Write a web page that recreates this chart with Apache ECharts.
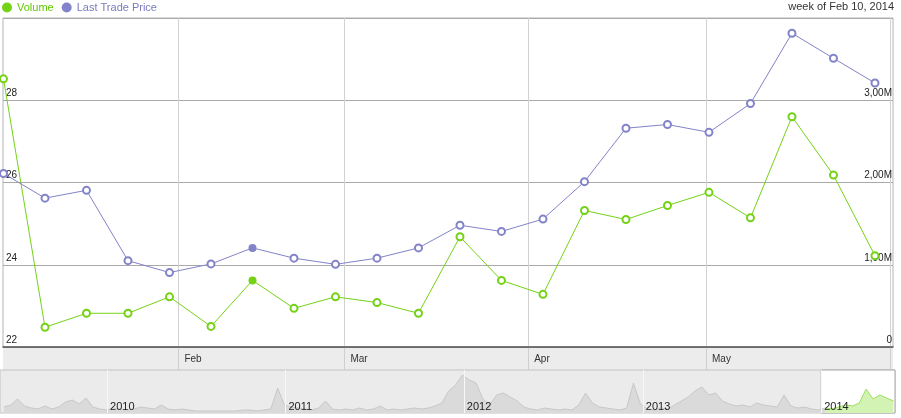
<!DOCTYPE html>
<html><head><meta charset="utf-8">
<script src="https://cdn.jsdelivr.net/npm/echarts@6/dist/echarts.min.js"></script>
<style>html,body{margin:0;padding:0;background:#fff}#c{width:901px;height:418px}</style>
</head><body><div id="c"></div>
<script>
// ---- main chart data (weekly points, Thursday of each week) ----
const weekDates = ['2014-01-02','2014-01-09','2014-01-16','2014-01-23','2014-01-30','2014-02-06','2014-02-13','2014-02-20','2014-02-27','2014-03-06','2014-03-13','2014-03-20','2014-03-27','2014-04-03','2014-04-10','2014-04-17','2014-04-24','2014-05-01','2014-05-08','2014-05-15','2014-05-22','2014-05-29'];
const volumeM = [3.26,0.24,0.41,0.41,0.61,0.25,0.81,0.47,0.61,0.54,0.41,1.34,0.81,0.64,1.66,1.55,1.72,1.88,1.57,2.80,2.09,1.11];
const lastTradePrice = [26.22,25.62,25.81,24.10,23.81,24.02,24.41,24.16,24.01,24.16,24.41,24.96,24.81,25.11,26.02,27.32,27.41,27.22,27.92,29.63,29.02,28.42];
const highlightIndex = 6;
const headerText = 'week of Feb 10, 2014';
const priceTickLabels = ['22','24','26','28',''];
const volumeTickLabels = ['0','1,00M','2,00M','3,00M',''];
const monthTicks = ['2014-02-01','2014-03-01','2014-04-01','2014-05-01','2014-06-01'];
const monthLabels = ['Feb','Mar','Apr','May'];
// ---- navigator data (biweekly, arbitrary volume units) ----
const navStart = '2009-06-04';
const navValues = [6,8,14,7,5,4,7,4,6,11,13,9,15,6,4,3,5,4,3,4,6,5,4,8,4,3,4,3,2,2,2,2,2,2,2,3,3,2,3,4,25,8,6,5,4,3,5,12,4,3,4,3,5,3,4,7,3,4,3,4,5,4,5,7,10,22,28,38,33,30,14,8,18,20,16,12,6,4,3,5,4,3,4,3,8,20,10,6,5,4,3,5,30,9,4,3,5,4,8,12,16,22,26,18,20,12,9,7,8,6,10,8,7,6,18,7,5,6,4,3,5,4,6,8,7,10,24,14,18,15,12];
const navWindowStart = '2014-01-01';
const yearTicks = ['2010-01-01','2011-01-01','2012-01-01','2013-01-01','2014-01-01'];
const yearLabels = ['2010','2011','2012','2013','2014'];

function day(s, h) { const p = s.split('-').map(Number); return new Date(p[0], p[1]-1, p[2], h || 0).getTime(); }

const GREEN = '#74d216', PURPLE = '#8383c9';
const mainMin = new Date(2014,0,2,10).getTime();
const mainMax = new Date(2014,5,1,13).getTime();
const navMin = new Date(2009,4,27).getTime();
const navMax = new Date(2014,5,1).getTime();

const volData = weekDates.map((d,i) => i === highlightIndex
  ? {value:[day(d,12), volumeM[i]], symbol:'circle', symbolSize:8}
  : [day(d,12), volumeM[i]]);
const priceData = weekDates.map((d,i) => i === highlightIndex
  ? {value:[day(d,12), lastTradePrice[i]], symbol:'circle', symbolSize:8}
  : [day(d,12), lastTradePrice[i]]);

const ns = navStart.split('-').map(Number);
const navDates = navValues.map((v,i) => new Date(ns[0], ns[1]-1, ns[2] + 14*i).getTime());
const winT = day(navWindowStart);
let splitIdx = navDates.findIndex(t => t >= winT);
const navGray = navValues.map((v,i) => i <= splitIdx ? [navDates[i], v] : [navDates[i], null]);
const navGreen = navValues.map((v,i) => i >= splitIdx ? [navDates[i], v] : [navDates[i], null]);

const monthT = monthTicks.map(s => day(s));
const yearT = yearTicks.map(s => day(s));
const FONT = 'Arial, "Liberation Sans", sans-serif';

const chart = echarts.init(document.getElementById('c'));
chart.setOption({
  animation: false,
  backgroundColor: '#fff',
  textStyle: {fontFamily: FONT},
  title: {text: headerText, right: 7, top: 1, padding: 0, textStyle: {fontSize: 11, fontWeight: 'normal', color: '#333', fontFamily: FONT}},
  legend: {
    left: 2, top: 2, padding: 0, icon: 'circle', itemWidth: 10, itemHeight: 10, itemGap: 8, selectedMode: false,
    textStyle: {fontSize: 11, fontFamily: FONT},
    data: [{name: 'Volume', textStyle: {color: '#5fc800'}}, {name: 'Last Trade Price', textStyle: {color: '#7a7abf'}}]
  },
  grid: [
    {left: 3, right: 8, top: 18, height: 329, show: true, backgroundColor: '#fff', borderColor: '#b4b4b4', borderWidth: 1},
    {left: 3, right: 8, top: 347, height: 23, show: true, backgroundColor: '#ececec', borderWidth: 0},
    {left: 0, right: 6, top: 370, height: 43, show: true, backgroundColor: '#ebebeb', borderColor: '#c4c4c4', borderWidth: 1}
  ],
  xAxis: [
    {type: 'value', gridIndex: 0, min: mainMin, max: mainMax,
     axisLine: {show: true, lineStyle: {color: '#555', width: 1.5}}, axisLabel: {show: false},
     axisTick: {show: false, customValues: monthT},
     splitLine: {show: true, lineStyle: {color: '#d2d2d2'}}},
    {type: 'value', gridIndex: 1, min: mainMin, max: mainMax, position: 'top',
     axisLine: {show: false}, axisTick: {show: false, customValues: monthT},
     splitLine: {show: true, lineStyle: {color: '#cfcfcf'}},
     axisLabel: {show: true, inside: true, margin: 12, verticalAlign: 'middle', align: 'left', padding: [0,0,0,6],
       color: '#333', fontSize: 10, customValues: monthT.slice(0, monthLabels.length),
       formatter: (v) => { const i = monthT.indexOf(v); return i >= 0 ? monthLabels[i] : ''; }}},
    {type: 'value', gridIndex: 2, min: navMin, max: navMax, z: 10,
     axisLine: {show: false}, axisTick: {show: false, customValues: yearT},
     splitLine: {show: true, lineStyle: {color: '#f7f7f7'}},
     axisLabel: {show: true, inside: true, margin: 6, verticalAlign: 'middle', align: 'left', padding: [0,0,0,3],
       color: '#222', fontSize: 11, customValues: yearT,
       formatter: (v) => { const i = yearT.indexOf(v); return i >= 0 ? yearLabels[i] : ''; }}}
  ],
  yAxis: [
    {type: 'value', gridIndex: 0, min: 22, max: 30, interval: 2, position: 'left',
     axisLine: {show: false}, axisTick: {show: false},
     splitLine: {show: true, lineStyle: {color: '#a9a9a9'}},
     axisLabel: {inside: true, margin: 3, align: 'left', verticalAlign: 'bottom', padding: [0,0,2,0], color: '#222', fontSize: 10,
       formatter: (v, i) => priceTickLabels[i] || ''}},
    {type: 'value', gridIndex: 0, min: 0, max: 4, interval: 1, position: 'right',
     axisLine: {show: false}, axisTick: {show: false}, splitLine: {show: false},
     axisLabel: {inside: true, margin: 1, align: 'right', verticalAlign: 'bottom', padding: [0,0,2,0], color: '#222', fontSize: 10,
       formatter: (v, i) => volumeTickLabels[i] || ''}},
    {type: 'value', gridIndex: 1, min: 0, max: 1, show: false},
    {type: 'value', gridIndex: 2, min: 0, max: 43, show: false}
  ],
  series: [
    {name: 'Volume', type: 'line', xAxisIndex: 0, yAxisIndex: 1, data: volData, clip: false,
     symbol: 'emptyCircle', symbolSize: 7, showAllSymbol: true, color: GREEN,
     lineStyle: {width: 1, color: GREEN}, itemStyle: {color: GREEN, borderWidth: 1}, z: 3},
    {name: 'Last Trade Price', type: 'line', xAxisIndex: 0, yAxisIndex: 0, data: priceData, clip: false,
     symbol: 'emptyCircle', symbolSize: 7, showAllSymbol: true, color: PURPLE,
     lineStyle: {width: 1, color: PURPLE}, itemStyle: {color: PURPLE, borderWidth: 1}, z: 3},
    {name: 'navGray', type: 'line', xAxisIndex: 2, yAxisIndex: 3, data: navGray, symbol: 'none', connectNulls: false,
     lineStyle: {width: 1, color: '#c8c8c8'}, areaStyle: {color: '#dadada', opacity: 1}, z: 2, silent: true},
    {name: 'navGreen', type: 'line', xAxisIndex: 2, yAxisIndex: 3, data: navGreen, symbol: 'none', connectNulls: false,
     lineStyle: {width: 1, color: '#9ee05a'}, areaStyle: {color: '#d3f3b5', opacity: 1}, z: 3, silent: true,
     markArea: {silent: true, itemStyle: {color: '#fff', borderColor: '#a8a8a8', borderWidth: 1},
       data: [[{xAxis: winT}, {xAxis: navMax}]]}}
  ]
});
</script></body></html>
